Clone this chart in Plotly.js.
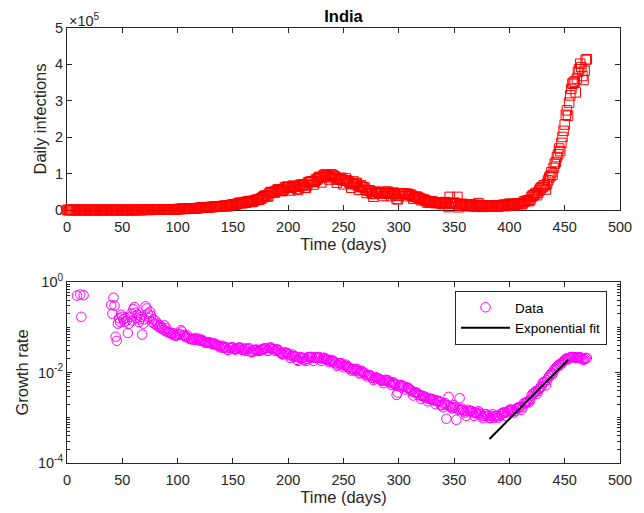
<!DOCTYPE html>
<html><head><meta charset="utf-8">
<script src="https://cdn.plot.ly/plotly-3.0.1.min.js"></script>
<style>html,body{margin:0;padding:0;background:#fff;} #chart{width:644px;height:513px;}</style>
</head><body><div id="chart"></div>
<script>
// Daily infections (thousands), one value per day starting at day 0
const dailyCasesThousands = [
0,0,0,0,0,0,0,0,0.001,0,0,0.001,0.001,0,0,0,0,0,0,0,0,0,0,0,0,0,0,0,0,0,0,0,0,0,0,0,0,0,0,0,
0.002,0,0.022,0.002,0.001,0.003,0.005,0.01,0.004,0.006,0.011,0.009,0.02,0.011,0.006,0.023,0.014,0.038,0.05,0.086,0.066,0.103,0.037,0.121,0.07,0.16,0.1,0.078,0.15,0.227,
0.6,0.55,0.48,0.57,0.5,0.69,0.57,0.56,0.59,0.9,0.77,0.8,0.91,1.24,1.03,0.98,1.12,0.87,1.0,1.5,1.54,1.29,1.43,1.75,1.4,1.6,1.56,1.9,1.6,1.8,
2.3,2.6,2.5,3.0,3.9,2.9,3.6,3.3,3.3,4.2,3.6,3.6,3.5,3.7,3.9,4.0,4.9,4.6,5.0,5.6,5.6,6.1,6.6,6.8,6.7,6.5,6.4,6.9,7.5,7.9,
8.4,8.2,8.2,9.6,9.9,9.9,9.8,9.9,9.0,9.9,11.1,10.0,11.3,11.9,11.5,10.7,10.7,13.0,13.6,14.5,15.4,14.8,14.9,16.0,16.9,18.2,19.9,20.0,18.7,18.9,
20.0,22.0,20.0,22.7,24.0,24.8,22.2,22.3,23.1,24.9,27.1,27.1,28.6,28.2,28.7,31.0,32.7,34.9,38.0,39.0,40.4,37.1,37.7,45.7,49.3,48.9,48.7,50.0,47.7,52.1,
55.1,57.1,54.7,52.9,52.0,52.5,56.3,62.5,61.5,64.4,62.1,62.1,53.6,60.9,67.0,64.5,65.0,63.5,57.9,55.1,64.5,69.6,69.0,68.9,70.0,61.4,60.9,67.2,75.8,77.3,
76.5,78.8,78.5,69.9,78.4,83.9,83.3,87.1,90.6,90.8,75.8,89.7,95.7,96.6,97.6,94.4,92.1,83.8,90.1,97.9,96.4,93.3,92.6,86.9,75.1,83.3,86.5,85.4,88.6,82.2,
70.6,80.5,86.8,81.5,79.5,75.8,74.4,61.3,72.0,78.5,70.5,73.3,74.4,66.7,55.3,63.5,67.7,63.4,62.2,61.9,55.7,46.8,54.0,54.0,53.4,50.1,45.1,36.5,43.9,49.9,
49.9,48.6,48.3,46.9,46.2,45.2,38.3,46.3,50.2,47.6,50.4,45.7,45.9,38.1,44.3,47.9,44.9,41.1,30.5,29.2,38.6,45.6,46.2,45.9,45.2,44.1,37.9,44.4,44.5,43.1,
41.3,41.8,38.8,31.1,36.6,35.6,36.6,36.0,32.9,32.3,26.6,30.1,29.5,28.0,27.0,24.1,20.1,24.4,22.0,23.2,23.4,22.1,21.3,18.6,20.9,21.7,20.1,20.1,18.0,17.7,
16.4,20.5,21.8,20.0,19.1,8.0,36.0,18.5,16.5,18.1,20.3,18.1,17.0,36.0,7.5,16.3,12.6,15.9,16.9,15.6,15.1,13.8,10.1,13.8,15.2,14.5,14.3,14.0,13.2,9.1,
12.7,13.0,18.9,14.0,13.1,11.4,8.6,11.0,12.9,12.4,11.7,11.1,9.1,9.1,11.1,12.9,9.3,12.1,12.2,11.6,9.1,11.6,12.9,13.2,13.9,14.3,14.2,10.6,13.7,16.7,
16.6,16.5,16.8,15.5,12.3,14.9,17.4,16.8,18.3,18.3,18.6,15.4,17.9,22.9,23.3,24.9,25.3,26.3,24.5,28.9,35.9,39.7,40.9,43.8,46.9,40.7,47.3,53.5,59.1,62.3,
62.7,68.0,68.0,56.2,72.3,81.5,89.1,93.2,103.6,96.6,115.7,126.8,131.9,145.4,152.9,168.9,161.7,184.4,200.7,217.4,234.7,261.5,273.8,259.2,295.0,314.8,332.7,346.8,349.7,352.9,
323.1,360.9,379.3,386.5,401.9,392.5,368.1,357.2,382.3,412.3,414.2
];

// Growth rate: a few early points, then one value per day from growthStartDay
const growthEarlyDays = [9, 12, 15, 13];
const growthEarlyValues = [0.5, 0.53, 0.51, 0.17];
const growthStartDay = 40;
const growthValues = [
0.31,0.2,0.45,0.3,0.062,0.05,0.12,0.16,0.13,0.19,0.17,0.15,0.13,0.16,0.14,0.075,0.12,0.17,0.2,0.14,0.25,0.28,0.21,0.16,0.19,0.13,0.15,0.17,0.069,0.12,
0.15,0.29,0.26,0.2,0.16,0.22,0.18,0.13,0.15,0.12,0.14,0.11,0.12,0.1,0.11,0.095,0.1,0.088,0.11,0.082,0.095,0.078,0.08,0.075,0.072,0.07,0.074,0.066,0.068,0.065,
0.068,0.072,0.07,0.086,0.08,0.066,0.068,0.062,0.06,0.066,0.058,0.056,0.054,0.055,0.054,0.053,0.058,0.053,0.054,0.056,0.05,0.052,0.053,0.05,0.048,0.046,0.045,0.046,0.047,0.046,
0.045,0.043,0.042,0.044,0.043,0.041,0.04,0.039,0.036,0.038,0.039,0.035,0.037,0.037,0.035,0.032,0.031,0.035,0.035,0.036,0.036,0.033,0.032,0.033,0.034,0.035,0.036,0.035,0.032,0.031,
0.032,0.034,0.03,0.033,0.034,0.034,0.029,0.028,0.029,0.031,0.032,0.031,0.032,0.03,0.03,0.031,0.032,0.033,0.034,0.034,0.034,0.03,0.03,0.035,0.036,0.034,0.033,0.033,0.03,0.032,
0.032,0.032,0.029,0.027,0.026,0.025,0.026,0.028,0.027,0.027,0.025,0.025,0.021,0.023,0.025,0.023,0.023,0.022,0.019,0.018,0.021,0.022,0.021,0.021,0.021,0.019,0.018,0.02,0.022,0.022,
0.022,0.022,0.021,0.018,0.021,0.022,0.021,0.021,0.022,0.021,0.018,0.02,0.021,0.021,0.02,0.019,0.019,0.017,0.018,0.019,0.018,0.018,0.017,0.016,0.014,0.015,0.016,0.016,0.016,0.015,
0.013,0.014,0.015,0.014,0.013,0.013,0.012,0.011,0.012,0.012,0.011,0.012,0.012,0.011,0.0095,0.01,0.011,0.0105,0.01,0.0098,0.009,0.0082,0.0088,0.0088,0.0087,0.0083,0.0076,0.0068,0.0074,0.0079,
0.0077,0.0075,0.0073,0.007,0.0068,0.0066,0.0058,0.0066,0.0069,0.0066,0.0068,0.0062,0.006,0.0053,0.0058,0.0061,0.0057,0.0053,0.0032,0.0036,0.0049,0.0052,0.0053,0.0051,0.005,0.0048,0.0042,0.0047,0.0046,0.0045,
0.0042,0.0041,0.0038,0.0031,0.0037,0.0036,0.0036,0.0035,0.0032,0.0031,0.0026,0.0031,0.003,0.0029,0.0029,0.0027,0.0023,0.0027,0.0026,0.0026,0.0026,0.0025,0.0024,0.002,0.0024,0.0024,0.0023,0.0023,0.0019,0.0019,
0.0017,0.002,0.0021,0.00095,0.0019,0.0029,0.0018,0.0017,0.0016,0.0017,0.0019,0.0017,0.0009,0.0016,0.0015,0.0027,0.0015,0.0016,0.0015,0.0014,0.0013,0.0011,0.0014,0.0015,0.0014,0.0014,0.0014,0.0013,0.0011,0.0013,
0.0013,0.0012,0.0014,0.0013,0.0012,0.0011,0.00098,0.0011,0.0012,0.0012,0.0011,0.0011,0.00098,0.00098,0.0011,0.0012,0.001,0.0011,0.0011,0.0011,0.001,0.0011,0.0012,0.0012,0.0013,0.0013,0.0013,0.0011,0.0013,0.0014,
0.0015,0.0015,0.0015,0.0014,0.0013,0.0014,0.0016,0.0016,0.0017,0.0017,0.0017,0.0015,0.0017,0.0021,0.0021,0.0022,0.0022,0.0023,0.0022,0.0025,0.0031,0.0034,0.0035,0.0037,0.0039,0.0034,0.0039,0.0043,0.0047,0.0049,
0.0058,0.0062,0.0062,0.0052,0.0068,0.0076,0.0083,0.0088,0.0097,0.0092,0.011,0.012,0.0125,0.0135,0.014,0.0152,0.0145,0.016,0.017,0.018,0.0188,0.02,0.0205,0.0195,0.021,0.0215,0.022,0.022,0.0218,0.0215,
0.021,0.0215,0.0218,0.0215,0.0218,0.021,0.0195,0.019,0.0198,0.021,0.0208
];

// Exponential fit end points (straight on log axis)
const fitDays = [382, 453];
const fitValues = [3.4e-4, 0.019];

const xTickVals = [0, 50, 100, 150, 200, 250, 300, 350, 400, 450, 500];
const yTopTickVals = [0, 100000, 200000, 300000, 400000, 500000];
const yTopTickText = ['0', '1', '2', '3', '4', '5'];
const yLogTickVals = [1e-4, 1e-2, 1];
const yLogTickText = ['10<sup>-4</sup>', '10<sup>-2</sup>', '10<sup>0</sup>'];

const days = dailyCasesThousands.map((_, i) => i);
const cases = dailyCasesThousands.map(v => v * 1000);
const growthDays = growthEarlyDays.concat(growthValues.map((_, i) => growthStartDay + i));
const growthAll = growthEarlyValues.concat(growthValues);

const minorLog = [];
for (let e = -4; e < 0; e++) for (let k = 2; k <= 10; k++) {
  const v = k * Math.pow(10, e);
  if (k === 10 && (e === -3 || e === -1)) continue;
  minorLog.push(v);
}

const FONT = 'Liberation Sans, Arial, Helvetica, sans-serif';
const AX = '#262626';
const axBase = {
  showline: true, linecolor: AX, linewidth: 1, mirror: 'ticks',
  ticks: 'inside', ticklen: 5, tickwidth: 1, tickcolor: AX,
  showgrid: false, zeroline: false, layer: 'below traces',
  tickfont: {family: FONT, size: 14.5, color: AX}
};

const traces = [
  {x: days, y: cases, type: 'scatter', mode: 'markers', xaxis: 'x', yaxis: 'y',
   marker: {symbol: 'square-open', size: 9.5, color: '#ff0000', line: {width: 1, color: '#ff0000'}},
   showlegend: false, cliponaxis: false, name: 'Daily infections'},
  {x: growthDays, y: growthAll, type: 'scatter', mode: 'markers', xaxis: 'x2', yaxis: 'y2',
   marker: {symbol: 'circle-open', size: 9.5, color: '#ff00ff', line: {width: 1, color: '#ff00ff'}},
   name: 'Data', cliponaxis: false},
  {x: fitDays, y: fitValues, type: 'scatter', mode: 'lines', xaxis: 'x2', yaxis: 'y2',
   line: {color: '#000000', width: 2}, name: 'Exponential fit'}
];

const layout = {
  width: 644, height: 513,
  margin: {l: 67, r: 24, t: 28, b: 50, pad: 0},
  paper_bgcolor: '#ffffff', plot_bgcolor: '#ffffff',
  font: {family: FONT, color: AX},
  title: {text: '<b>India</b>', font: {family: FONT, size: 16.5, color: '#000'},
          x: 0.5, xref: 'paper', xanchor: 'center', y: 1 - 16 / 513, yref: 'container', yanchor: 'middle'},
  xaxis: Object.assign({}, axBase, {domain: [0, 1], range: [0, 500], anchor: 'y',
          tickmode: 'array', tickvals: xTickVals, ticklabelstandoff: 4,
          title: {text: 'Time (days)', font: {family: FONT, size: 16.5, color: AX}, standoff: 4}}),
  yaxis: Object.assign({}, axBase, {domain: [0.5816, 1], range: [0, 500000], anchor: 'x',
          tickmode: 'array', tickvals: yTopTickVals, ticktext: yTopTickText,
          title: {text: 'Daily infections', font: {family: FONT, size: 16.5, color: AX}, standoff: 4}}),
  xaxis2: Object.assign({}, axBase, {domain: [0, 1], range: [0, 500], anchor: 'y2',
          tickmode: 'array', tickvals: xTickVals, ticklabelstandoff: 4,
          title: {text: 'Time (days)', font: {family: FONT, size: 16.5, color: AX}, standoff: 0}}),
  yaxis2: Object.assign({}, axBase, {domain: [0, 0.4161], type: 'log', range: [-4, 0], anchor: 'x2',
          tickmode: 'array', tickvals: yLogTickVals, ticktext: yLogTickText,
          minor: {tickmode: 'array', tickvals: minorLog, ticks: 'inside', ticklen: 3, tickcolor: AX, tickwidth: 1},
          title: {text: 'Growth rate', font: {family: FONT, size: 16.5, color: AX}, standoff: 5}}),
  legend: {x: 0.9765, xanchor: 'right', y: (463 - 291) / 435, yanchor: 'top', xref: 'paper', yref: 'paper',
           bgcolor: '#ffffff', bordercolor: AX, borderwidth: 1, itemwidth: 49,
           font: {family: FONT, size: 13.5, color: '#000'}, tracegroupgap: 0},
  annotations: [
    {text: '\u00d710<sup>5</sup>', xref: 'paper', yref: 'paper', x: 0, y: 1 + 8 / 435,
     xanchor: 'left', yanchor: 'middle', showarrow: false, font: {family: FONT, size: 14.5, color: AX}}
  ],
  showlegend: true
};

Plotly.newPlot('chart', traces, layout, {displayModeBar: false, staticPlot: true});
</script>
</body></html>
